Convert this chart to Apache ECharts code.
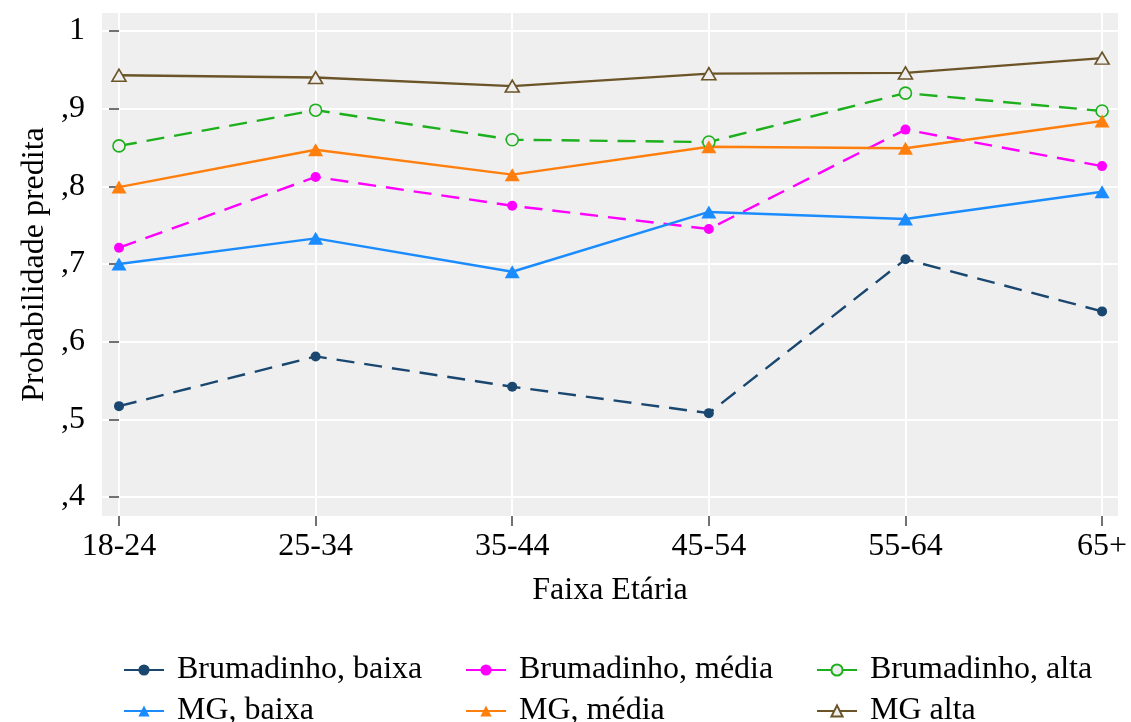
<!DOCTYPE html>
<html>
<head>
<meta charset="utf-8">
<script src="https://cdn.jsdelivr.net/npm/echarts@6/dist/echarts.min.js"></script>
<style>html,body{margin:0;padding:0;background:#fff}#c{width:1131px;height:722px}</style>
</head>
<body>
<div id="c"></div>
<script>
var categories = ['18-24','25-34','35-44','45-54','55-64','65+'];
var brumBaixa = [0.517, 0.581, 0.542, 0.508, 0.706, 0.639];
var brumMedia = [0.721, 0.812, 0.775, 0.745, 0.873, 0.826];
var brumAlta  = [0.852, 0.898, 0.860, 0.857, 0.920, 0.897];
var mgBaixa   = [0.700, 0.733, 0.690, 0.767, 0.758, 0.793];
var mgMedia   = [0.799, 0.847, 0.815, 0.851, 0.849, 0.884];
var mgAlta    = [0.943, 0.940, 0.929, 0.945, 0.946, 0.965];
var yTicks = [0.4, 0.5, 0.6, 0.7, 0.8, 0.9, 1.0];
var yTickLabels = [',4', ',5', ',6', ',7', ',8', ',9', '1'];
var seriesNames = ['Brumadinho, baixa','Brumadinho, média','Brumadinho, alta','MG, baixa','MG, média','MG alta'];

var FONT = 'Liberation Serif';
var FS = 32;
function pairs(arr){ return arr.map(function(v,i){ return [i, v]; }); }
function mk(name, data, color, dashed, symbol, size, hollow){
  return {
    name: name, type: 'line', data: pairs(data),
    symbol: symbol, symbolSize: size, showSymbol: true,
    lineStyle: {color: color, width: 2.4, type: dashed ? [18, 10] : 'solid'},
    itemStyle: {color: hollow ? '#efefef' : color, borderColor: color, borderWidth: hollow ? 1.6 : 0},
    emphasis: {disabled: true}, z: 3
  };
}
var legendCols = [123, 465, 816];
var legendRows = [654, 695];
var legends = seriesNames.map(function(n, i){
  return {
    data: [n], orient: 'horizontal',
    left: legendCols[i % 3], top: legendRows[Math.floor(i / 3)],
    padding: 0, itemWidth: 40, itemHeight: 14, itemGap: 0,
    lineStyle: {type: 'solid'},
    textStyle: {fontFamily: FONT, fontSize: FS, color: '#000', lineHeight: 32, padding: [0, 0, 0, 8]}
  };
});
var chart = echarts.init(document.getElementById('c'), null, {renderer: 'canvas'});
chart.setOption({
  animation: false,
  backgroundColor: '#ffffff',
  textStyle: {fontFamily: FONT},
  grid: {left: 102, right: 13, top: 13, bottom: 206, show: true, backgroundColor: '#efefef', borderWidth: 0, containLabel: false, outerBoundsMode: 'none'},
  xAxis: {
    type: 'value', min: -0.0865, max: 5.081,
    name: 'Faixa Etária', nameLocation: 'middle', nameGap: 59,
    nameTextStyle: {fontFamily: FONT, fontSize: FS, color: '#000'},
    axisLine: {show: false},
    axisTick: {show: true, length: 10, customValues: [0,1,2,3,4,5], lineStyle: {color: '#444', width: 1.5}},
    axisLabel: {customValues: [0,1,2,3,4,5], formatter: function(v){ return categories[Math.round(v)]; },
      fontFamily: FONT, fontSize: FS, color: '#000', margin: 15},
    splitLine: {show: true, lineStyle: {color: '#ffffff', width: 2}}
  },
  yAxis: {
    type: 'value', min: 0.3756, max: 1.0231,
    name: 'Probabilidade predita', nameLocation: 'middle', nameGap: 51, nameRotate: 90,
    nameTextStyle: {fontFamily: FONT, fontSize: FS, color: '#000'},
    axisLine: {show: false},
    axisTick: {show: true, length: 10, customValues: yTicks, lineStyle: {color: '#444', width: 1.5}},
    axisLabel: {customValues: yTicks, formatter: function(v){ var i = yTicks.findIndex(function(t){return Math.abs(t-v)<1e-6;}); return i>=0 ? yTickLabels[i] : ''; },
      fontFamily: FONT, fontSize: FS, color: '#000', margin: 17},
    splitLine: {show: true, lineStyle: {color: '#ffffff', width: 2}}
  },
  legend: legends,
  series: [
    mk(seriesNames[0], brumBaixa, '#1a476f', true, 'circle', 10, false),
    mk(seriesNames[1], brumMedia, '#ff00ff', true, 'circle', 10, false),
    mk(seriesNames[2], brumAlta, '#1cb01c', true, 'circle', 12, true),
    mk(seriesNames[3], mgBaixa, '#1a8cff', false, 'triangle', [15, 13], false),
    mk(seriesNames[4], mgMedia, '#ff7f0e', false, 'triangle', [15, 13], false),
    mk(seriesNames[5], mgAlta, '#6b5428', false, 'triangle', [14, 12], true)
  ]
});
</script>
</body>
</html>
